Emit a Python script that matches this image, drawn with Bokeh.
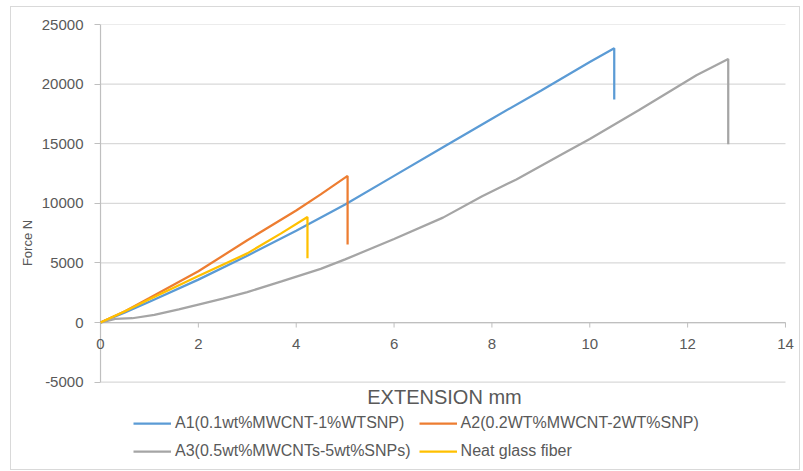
import math
from bokeh.plotting import figure
from bokeh.models import (Legend, LegendItem, FixedTicker, Range1d, Label, LabelSet,
                          ColumnDataSource)
from bokeh.core.properties import value
from bokeh.embed import file_html
from bokeh.resources import INLINE

# ---------------- data ----------------
ext_a1 = [0, 0.5, 1, 2, 3, 4, 5, 6, 7, 8, 9, 10, 10.5, 10.5]
force_a1 = [0, 850, 1750, 3600, 5600, 7700, 9900, 12300, 14700, 17100, 19450, 21850, 23000, 18700]

ext_a2 = [0, 0.5, 1, 2, 3, 4, 4.5, 5.05, 5.05]
force_a2 = [0, 950, 2050, 4300, 6900, 9400, 10750, 12300, 6550]

ext_a3 = [0, 0.3, 0.65, 1.1, 1.6, 2, 2.5, 3, 3.7, 4.5, 5, 6, 7, 7.8, 8.5, 9.45, 10, 11, 12.18, 12.83, 12.83]
force_a3 = [0, 300, 360, 650, 1100, 1500, 2000, 2550, 3450, 4500, 5300, 7000, 8800, 10600, 12000, 14150, 15400, 17800, 20750, 22100, 14950]

ext_neat = [0, 0.5, 1, 2, 3, 3.7, 4.23, 4.23]
force_neat = [0, 950, 1950, 3900, 5800, 7500, 8850, 5400]

series_names = ["A1(0.1wt%MWCNT-1%WTSNP)", "A2(0.2WT%MWCNT-2WT%SNP)",
                "A3(0.5wt%MWCNTs-5wt%SNPs)", "Neat glass fiber"]
series_colors = ["#5B9BD5", "#ED7D31", "#A5A5A5", "#FFC000"]

x_ticks = [0, 2, 4, 6, 8, 10, 12, 14]
x_tick_labels = ["0", "2", "4", "6", "8", "10", "12", "14"]
y_ticks = [-5000, 0, 5000, 10000, 15000, 20000, 25000]
y_tick_labels = ["-5000", "0", "5000", "10000", "15000", "20000", "25000"]

x_title = "EXTENSION mm"
y_title = "Force N"

TEXT = "#595959"
AXIS = "#BFBFBF"
GRID = "#D9D9D9"
FONT = "Liberation Sans"

# ---------------- figure ----------------
# The frame is a little wider than 0..14 (so the end tick numbers are not cut) and
# reaches down to the bottom so the x title and legend sit inside it.
p = figure(width=790, height=464, output_backend="svg", toolbar_location=None,
           x_range=Range1d(-0.123, 14.1845), y_range=Range1d(-11657, 25000),
           x_axis_location=None,
           min_border_left=83, min_border_right=7, min_border_top=17,
           min_border_bottom=10)
p.styles = {"border": "1px solid #D9D9D9", "margin-left": "10px", "margin-top": "6px"}
p.outline_line_color = None
p.background_fill_color = "white"
p.border_fill_color = "white"
p.xgrid.grid_line_color = None
p.ygrid.grid_line_color = None

# horizontal grid lines from extension 0 to 14
for t in y_ticks:
    p.line([x_ticks[0], x_ticks[-1]], [t, t], line_color=GRID, line_width=1.2)

# y axis: line at extension 0, tick marks and numbers from the axis model
p.line([x_ticks[0], x_ticks[0]], [y_ticks[0], y_ticks[-1]], line_color=AXIS, line_width=1.2)
p.yaxis.ticker = FixedTicker(ticks=y_ticks)
p.yaxis.bounds = (y_ticks[0], y_ticks[-1])
p.yaxis.major_label_overrides = dict(zip(y_ticks, y_tick_labels))
p.yaxis.axis_label = y_title
p.yaxis.axis_label_text_font = FONT
p.yaxis.axis_label_text_font_size = "13px"
p.yaxis.axis_label_text_font_style = "normal"
p.yaxis.axis_label_text_color = TEXT
p.yaxis.axis_label_standoff = 4
p.yaxis.major_label_text_font = FONT
p.yaxis.major_label_text_font_size = "15px"
p.yaxis.major_label_text_color = TEXT
p.yaxis.major_label_standoff = 11
p.yaxis.axis_line_color = None
p.yaxis.major_tick_line_color = AXIS
p.yaxis.major_tick_out = 0
p.yaxis.major_tick_in = 6
p.yaxis.minor_tick_line_color = None

# x axis drawn at force = 0: line, tick marks and numbers
p.line([x_ticks[0], x_ticks[-1]], [0, 0], line_color=AXIS, line_width=1.2)
p.ray(x=x_ticks, y=[0] * len(x_ticks), length=5, length_units="screen",
      angle=-math.pi / 2, line_color=AXIS, line_width=1)
tick_src = ColumnDataSource(dict(x=x_ticks, y=[0] * len(x_ticks), text=x_tick_labels))
p.add_layout(LabelSet(x="x", y="y", text="text", source=tick_src,
                      text_font=value(FONT), text_font_size=value("15px"),
                      text_color=TEXT, text_align="center", text_baseline="middle",
                      y_offset=-21))

# ---------------- lines ----------------
xs = [ext_a1, ext_a2, ext_a3, ext_neat]
ys = [force_a1, force_a2, force_a3, force_neat]
renderers = []
for x, y, c in zip(xs, ys, series_colors):
    r = p.line(x, y, line_color=c, line_width=2.25)
    renderers.append(r)

# ---------------- x title + legend ----------------
p.add_layout(Label(x=350, y=65, x_units="screen", y_units="screen", text=x_title,
                   text_font=FONT, text_font_size="20px", text_color=TEXT,
                   text_align="center", text_baseline="middle"))

items = [LegendItem(label=n, renderers=[r]) for n, r in zip(series_names, renderers)]
legend = Legend(items=items, orientation="horizontal", ncols=2,
                location=(39, 0), margin=0, padding=0, spacing=8,
                glyph_width=38, glyph_height=20, label_height=20,
                label_standoff=4, label_text_font=FONT,
                label_text_font_size="16px", label_text_color=TEXT,
                border_line_color=None, background_fill_alpha=0)
p.add_layout(legend, "center")

open("out.html", "w").write(file_html(p, INLINE))
